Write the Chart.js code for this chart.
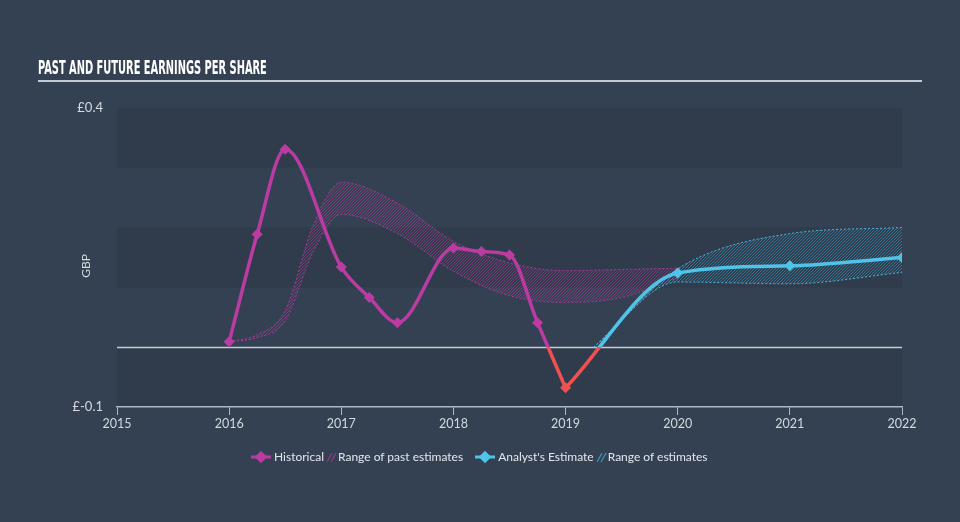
<!DOCTYPE html>
<html>
<head>
<meta charset="utf-8">
<script src="https://cdn.jsdelivr.net/npm/chart.js@4.4.1/dist/chart.umd.min.js"></script>
<style>
  html, body { margin: 0; padding: 0; background: #344152; }
  #wrap { position: relative; width: 960px; height: 522px; overflow: hidden; }
  #title { position: absolute; left: 38px; top: 55px; color: #fff; font-family: "DejaVu Sans Condensed", "DejaVu Sans", sans-serif;
           font-weight: bold; font-size: 20px; white-space: nowrap; transform-origin: left top; }
  #rule { position: absolute; left: 38px; top: 80px; width: 884px; height: 2px; background: #c3cad3; }
  #chart { position: absolute; left: 0; top: 0; }
  #legend { position: absolute; left: 251px; top: 449px; font-family: Lato, "Open Sans", sans-serif;
            font-size: 12px; color: #e3e7ec; white-space: nowrap; display: flex; align-items: center; }
  #legend svg { display: block; }
</style>
</head>
<body>
<div id="wrap">
  <canvas id="chart" width="960" height="522"></canvas>
  <div id="title">PAST AND FUTURE EARNINGS PER SHARE</div>
  <div id="rule"></div>
  <div id="legend">
    <svg width="20" height="14"><line x1="0" y1="7" x2="20" y2="7" stroke="#bb3ba2" stroke-width="3"/><rect x="5.5" y="2.5" width="9" height="9" fill="#bb3ba2" transform="rotate(45 10 7)"/></svg>
    <span style="margin-left:3px">Historical</span>
    <svg width="10" height="12" style="margin-left:3px"><line x1="0" y1="11" x2="5" y2="2" stroke="#8e3a80" stroke-width="1.3"/><line x1="4" y1="11" x2="9" y2="2" stroke="#8e3a80" stroke-width="1.3"/></svg>
    <span style="margin-left:1px">Range of past estimates</span>
    <svg width="20" height="14" style="margin-left:12px"><line x1="0" y1="7" x2="20" y2="7" stroke="#4fc3e8" stroke-width="3"/><rect x="5.5" y="2.5" width="9" height="9" fill="#4fc3e8" transform="rotate(45 10 7)"/></svg>
    <span style="margin-left:3px">Analyst's Estimate</span>
    <svg width="10" height="12" style="margin-left:3px"><line x1="0" y1="11" x2="5" y2="2" stroke="#3a93b4" stroke-width="1.3"/><line x1="4" y1="11" x2="9" y2="2" stroke="#3a93b4" stroke-width="1.3"/></svg>
    <span style="margin-left:1px">Range of estimates</span>
  </div>
</div>
<script>
// historical EPS (GBP)
const histYears = [2016.0, 2016.25, 2016.5, 2017.0, 2017.25, 2017.5, 2018.0, 2018.25, 2018.5, 2018.75, 2019.0];
const histEps = [0.009, 0.189, 0.331, 0.134, 0.083, 0.041, 0.166, 0.160, 0.154, 0.041, -0.068];

// past estimate range
const pastYears = [2016.0, 2016.25, 2016.5, 2016.75, 2017.0, 2017.5, 2018.0, 2018.5, 2019.0, 2019.5, 2020.0];
const pastHigh = [0.009, 0.021, 0.061, 0.204, 0.276, 0.241, 0.177, 0.141, 0.128, 0.130, 0.132];
const pastLow = [0.009, 0.016, 0.044, 0.160, 0.222, 0.190, 0.127, 0.086, 0.075, 0.083, 0.116];

// analyst estimate
const estYears = [2019.0, 2020.0, 2021.0, 2022.0];
const estEps = [-0.068, 0.124, 0.136, 0.150];
const rangeYears = [2019.25, 2020.0, 2021.0, 2022.0];
const rangeHigh = [0.0, 0.131, 0.190, 0.200];
const rangeLow = [0.0, 0.109, 0.106, 0.125];

const yearTicks = [2015, 2016, 2017, 2018, 2019, 2020, 2021, 2022];
const yTicks = [0.4, -0.1];
const yTickLabels = ['£0.4', '£-0.1'];

const MAGENTA = '#bb3ba2';
const CYAN = '#4fc3e8';
const RED = '#f24f4f';
const FONT = 'Lato, "Open Sans", sans-serif';

const pts = (xs, ys) => xs.map((x, i) => ({ x: x, y: ys[i] }));

// crisp 1px diagonal hatching
function hatch(color) {
    const n = 3;
    const c = document.createElement('canvas');
    c.width = n; c.height = n;
    const g = c.getContext('2d');
    g.fillStyle = color;
    for (let i = 0; i < n; i++) g.fillRect(i, n - 1 - i, 1, 1);
    return g.createPattern(c, 'repeat');
}

// line colour switches to red below zero
function splitColor(base) {
    return (ctx) => {
        const chart = ctx.chart;
        const area = chart.chartArea;
        if (!area) return base;
        const y0 = chart.scales.y.getPixelForValue(0);
        const f = Math.min(1, Math.max(0, (y0 - area.top) / (area.bottom - area.top)));
        const grad = chart.ctx.createLinearGradient(0, area.top, 0, area.bottom);
        grad.addColorStop(0, base);
        grad.addColorStop(f, base);
        grad.addColorStop(f, RED);
        grad.addColorStop(1, RED);
        return grad;
    };
}

const bandsPlugin = {
    id: 'bands',
    beforeDraw(chart) {
        const { ctx, chartArea: a, scales: { y } } = chart;
        ctx.save();
        ctx.fillStyle = 'rgba(28, 38, 52, 0.16)';
        [[0.3, 0.4], [0.1, 0.2], [-0.1, 0]].forEach(([lo, hi]) => {
            const t = y.getPixelForValue(hi), b = y.getPixelForValue(lo);
            ctx.fillRect(a.left, t, a.right - a.left, b - t);
        });
        const z = Math.round(y.getPixelForValue(0)) + 0.5;
        ctx.strokeStyle = '#c5ccd5';
        ctx.lineWidth = 1.5;
        ctx.beginPath();
        ctx.moveTo(a.left, z);
        ctx.lineTo(a.right, z);
        ctx.stroke();
        // y tick labels
        ctx.fillStyle = '#d5dae0';
        ctx.font = '13px ' + FONT;
        ctx.textAlign = 'right';
        ctx.textBaseline = 'middle';
        yTicks.forEach((v, i) => ctx.fillText(yTickLabels[i], 103, y.getPixelForValue(v)));
        // y axis title
        ctx.translate(86, 266);
        ctx.rotate(-Math.PI / 2);
        ctx.font = '12px ' + FONT;
        ctx.textAlign = 'center';
        ctx.fillText('GBP', 0, 0);
        ctx.restore();
    }
};

const rangeBorder = (c) => ({ borderColor: c, borderWidth: 1, borderDash: [2, 2], pointRadius: 0, cubicInterpolationMode: 'monotone' });

new Chart(document.getElementById('chart'), {
    type: 'line',
    data: {
        datasets: [
            { label: 'Historical', data: pts(histYears, histEps), order: 1,
              borderColor: splitColor(MAGENTA), borderWidth: 3.5, cubicInterpolationMode: 'monotone',
              pointStyle: 'rectRot', pointRadius: 5.5, pointBorderWidth: 0,
              pointBackgroundColor: (c) => (c.raw && c.raw.y < 0 ? RED : MAGENTA) },
            { label: "Analyst's Estimate", data: pts(estYears, estEps), order: 0,
              borderColor: splitColor(CYAN), borderWidth: 3.5, cubicInterpolationMode: 'monotone',
              pointStyle: 'rectRot', pointRadius: (c) => (c.dataIndex === 0 ? 0 : 5.5), pointBorderWidth: 0,
              pointBackgroundColor: CYAN },
            Object.assign({ label: 'pastHigh', data: pts(pastYears, pastHigh), order: 5, fill: false }, rangeBorder('rgba(187,59,162,0.8)')),
            Object.assign({ label: 'pastLow', data: pts(pastYears, pastLow), order: 5, fill: '-1',
              backgroundColor: hatch('rgba(180,56,156,0.55)') }, rangeBorder('rgba(187,59,162,0.8)')),
            Object.assign({ label: 'estHigh', data: pts(rangeYears, rangeHigh), order: 4, fill: false }, rangeBorder('rgba(79,195,232,0.85)')),
            Object.assign({ label: 'estLow', data: pts(rangeYears, rangeLow), order: 4, fill: '-1',
              backgroundColor: hatch('rgba(60,165,205,0.55)') }, rangeBorder('rgba(79,195,232,0.85)'))
        ]
    },
    options: {
        responsive: false,
        animation: false,
        layout: { padding: { left: 72, right: 58, top: 108, bottom: 0 } },
        plugins: { legend: { display: false }, tooltip: { enabled: false } },
        scales: {
            x: {
                type: 'linear', min: 2015, max: 2022,
                afterBuildTicks: (s) => { s.ticks = yearTicks.map(v => ({ value: v })); },
                afterFit: (s) => { s.height = 115; },
                ticks: { color: '#d3d8de', font: { family: FONT, size: 12.5 }, padding: 1,
                         maxRotation: 0, callback: (v) => String(v) },
                grid: { drawOnChartArea: false, drawTicks: true, tickLength: 8, color: '#aeb8c4', lineWidth: 1 },
                border: { display: true, color: '#aeb8c4', width: 1.5 }
            },
            y: {
                min: -0.1, max: 0.4,
                afterFit: (s) => { s.width = 45; },
                ticks: { display: false },
                grid: { display: false },
                border: { display: false }
            }
        }
    },
    plugins: [bandsPlugin]
});

// squeeze the title to the reference width
const t = document.getElementById('title');
t.style.transform = 'scaleX(' + (229 / t.offsetWidth) + ')';
</script>
</body>
</html>
